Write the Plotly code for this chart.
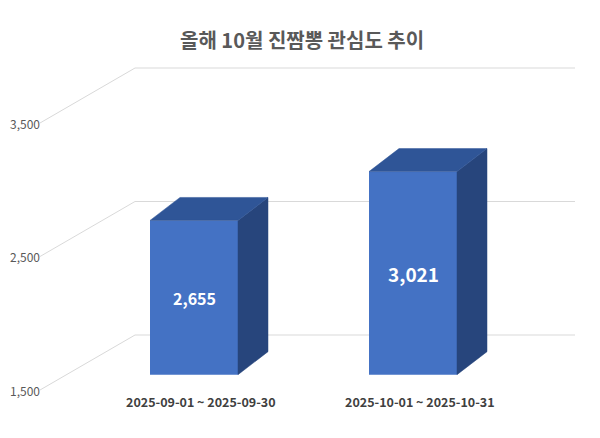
import plotly.graph_objects as go

# 데이터
periods = ['2025-09-01 ~ 2025-09-30', '2025-10-01 ~ 2025-10-31']
values = [2655, 3021]
value_labels = ['2,655', '3,021']
y_ticks = [1500, 2500, 3500]
y_tick_text = ['1,500', '2,500', '3,500']

# 3D 흉내용 설정 (데이터 단위)
OX, OY = 186, 382     # 첫 막대 중심 x(px), 1,500 위치 y(px)
PX_X = 219.0          # 카테고리 간격(px)
PX_Y = 0.1335         # 1단위당 px
BASE = 1500
LIFT = 115            # 막대가 벽보다 앞쪽에 놓인 만큼
WALL_DY = 55 / PX_Y   # 뒤 벽까지의 높이 차
WALL_X0 = (32 - OX) / PX_X
WALL_X1 = (127 - OX) / PX_X
WALL_X2 = (567 - OX) / PX_X
BAR_W = 88 / PX_X
DEPTH_X = 30 / PX_X
DEPTH_Y = 23 / PX_Y

fig = go.Figure()

# 격자선 (옆 벽 + 뒤 벽) - 아래 축에
for t in y_ticks:
    fig.add_trace(go.Scatter(
        x=[WALL_X0, WALL_X1, WALL_X2], y=[t, t + WALL_DY, t + WALL_DY],
        mode='lines', line=dict(color='#d9d9d9', width=1),
        hoverinfo='skip', showlegend=False))

# 앞면
fig.add_trace(go.Bar(
    x=list(range(len(values))), y=[v - BASE for v in values], base=BASE + LIFT,
    width=BAR_W, marker=dict(color='#4472c4', line=dict(width=0)),
    showlegend=False, hoverinfo='skip', xaxis='x2', yaxis='y2'))

for i, v in enumerate(values):
    x0, x1 = i - BAR_W / 2, i + BAR_W / 2
    b, top = BASE + LIFT, v + LIFT
    # 옆면
    fig.add_trace(go.Scatter(
        x=[x1, x1 + DEPTH_X, x1 + DEPTH_X, x1, x1],
        y=[b, b + DEPTH_Y, top + DEPTH_Y, top, b],
        fill='toself', fillcolor='#27457c', mode='lines',
        line=dict(color='#27457c', width=0.5), hoverinfo='skip', showlegend=False,
        xaxis='x2', yaxis='y2'))
    # 윗면
    fig.add_trace(go.Scatter(
        x=[x0, x0 + DEPTH_X, x1 + DEPTH_X, x1, x0],
        y=[top, top + DEPTH_Y, top + DEPTH_Y, top, top],
        fill='toself', fillcolor='#2f5597', mode='lines',
        line=dict(color='#2f5597', width=0.5), hoverinfo='skip', showlegend=False,
        xaxis='x2', yaxis='y2'))

for i, v in enumerate(values):
    fig.add_annotation(x=i, y=(BASE + v) / 2 + LIFT, text=f'<b>{value_labels[i]}</b>',
                       showarrow=False, font=dict(color='white', size=16 if i == 0 else 19))
    fig.add_annotation(x=i + 0.03, y=0.075, yref='paper', text=f'<b>{periods[i]}</b>',
                       showarrow=False, font=dict(color='#404040', size=12.5))

for t, s in zip(y_ticks, y_tick_text):
    fig.add_annotation(x=0.0, xref='paper', y=t, text=s, xanchor='left',
                       showarrow=False, font=dict(color='#595959', size=12))

fig.add_annotation(x=0.49, xref='paper', y=0.965, yref='paper',
                   text='<b>올해 10월 진짬뽕 관심도 추이</b>', showarrow=False,
                   font=dict(color='#595959', size=20))

xr = [-OX / PX_X, (600 - OX) / PX_X]
yr = [BASE - (438 - OY) / PX_Y, BASE + OY / PX_Y]
fig.update_layout(
    width=600, height=438, margin=dict(l=0, r=0, t=0, b=0),
    paper_bgcolor='white', plot_bgcolor='white',
    font=dict(family='Noto Sans CJK KR'),
    xaxis=dict(range=xr, visible=False, fixedrange=True),
    yaxis=dict(range=yr, visible=False, fixedrange=True),
    xaxis2=dict(range=xr, visible=False, fixedrange=True, overlaying='x'),
    yaxis2=dict(range=yr, visible=False, fixedrange=True, overlaying='y'),
)

fig.write_html('out.html')
